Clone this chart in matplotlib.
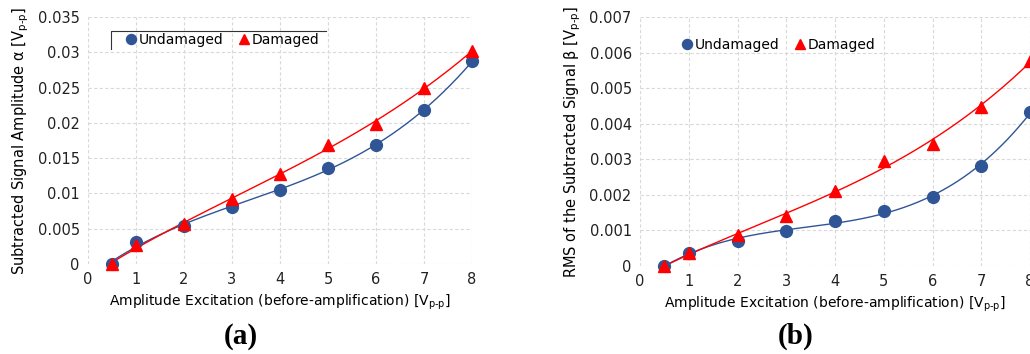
import matplotlib.pyplot as plt
import numpy as np

# excitation amplitude [Vp-p]
x = [0.5, 1, 2, 3, 4, 5, 6, 7, 8]

# (a) subtracted signal amplitude alpha
alpha_undamaged = [0.0, 0.0031, 0.0054, 0.0081, 0.0105, 0.0136, 0.0169, 0.0218, 0.0287]
alpha_damaged = [0.0, 0.0027, 0.0056, 0.0092, 0.0128, 0.0168, 0.0199, 0.0249, 0.0302]

# (b) RMS of the subtracted signal beta
beta_undamaged = [0.0, 0.00037, 0.00071, 0.00099, 0.00126, 0.00154, 0.00194, 0.00281, 0.00433]
beta_damaged = [0.0, 0.00036, 0.00087, 0.0014, 0.00212, 0.00295, 0.00342, 0.00448, 0.00577]

xticks = list(range(9))
alpha_ticks = [0, 0.005, 0.01, 0.015, 0.02, 0.025, 0.03, 0.035]
alpha_labels = ['0', '0.005', '0.01', '0.015', '0.02', '0.025', '0.03', '0.035']
beta_ticks = [0, 0.001, 0.002, 0.003, 0.004, 0.005, 0.006, 0.007]
beta_labels = ['0', '0.001', '0.002', '0.003', '0.004', '0.005', '0.006', '0.007']

blue = '#2F5597'
red = '#FF0000'
xlabel = 'Amplitude Excitation (before-amplification) [V$_\\mathregular{p\\text{-}p}$]'

plt.rcParams['font.family'] = ['DejaVu Sans']
plt.rcParams['font.size'] = 10
plt.rcParams['mathtext.default'] = 'regular'

fig = plt.figure(figsize=(10.3, 3.54), dpi=100)
ax1 = fig.add_axes([0.0854, 0.2542, 0.3728, 0.6977])
ax2 = fig.add_axes([0.6214, 0.2486, 0.3786, 0.7034])


def draw(ax, yu, yd, yticks, ylabels, ylabel):
    xs = np.linspace(x[0], x[-1], 200)
    fu = np.polyfit(x, yu, 3)
    fd = np.polyfit(x, yd, 3)
    ax.plot(xs, np.polyval(fu, xs), color=blue, lw=1.0, zorder=2)
    ax.plot(xs, np.polyval(fd, xs), color=red, lw=1.0, zorder=2)
    ax.plot(x, yu, 'o', color=blue, ms=8.5, label='Undamaged', clip_on=False, zorder=3)
    ax.plot(x, yd, '^', color=red, ms=8, label='Damaged', clip_on=False, zorder=4)
    ax.set_xlim(0, 8)
    ax.set_ylim(yticks[0], yticks[-1])
    ax.set_xticks(xticks)
    ax.set_yticks(yticks)
    ax.set_yticklabels(ylabels)
    ax.tick_params(length=0, pad=6, labelsize=10.5, colors='#222222')
    for s in ax.spines.values():
        s.set_visible(False)
    ax.grid(True, ls=(0, (3, 2)), color='#D9D9D9', lw=0.8)
    ax.set_axisbelow(True)
    ax.set_xlabel(xlabel, fontsize=10, labelpad=4)
    ax.set_ylabel(ylabel, fontsize=10.5, labelpad=5)


draw(ax1, alpha_undamaged, alpha_damaged, alpha_ticks, alpha_labels,
     'Subtracted Signal Amplitude α [V$_\\mathregular{p\\text{-}p}$]')
draw(ax2, beta_undamaged, beta_damaged, beta_ticks, beta_labels,
     'RMS of the Subtracted Signal β [V$_\\mathregular{p\\text{-}p}$]')

leg_kw = dict(ncol=2, frameon=False, handletextpad=0.0, columnspacing=0.9,
              handlelength=1.1, markerscale=0.85, fontsize=10)
ax1.legend(loc='upper left', bbox_to_anchor=(0.06, 0.985), **leg_kw)
# partial frame around the legend (top and left edges only)
ax1.plot([0.06, 0.06, 0.62], [0.87, 0.943, 0.943], color='#333333', lw=0.8,
         transform=ax1.transAxes, clip_on=False)
ax2.legend(loc='upper left', bbox_to_anchor=(0.07, 0.965), **leg_kw)

fig.text(0.234, 0.03, '(a)', fontsize=21, fontweight='bold', family='Liberation Serif', ha='center')
fig.text(0.772, 0.03, '(b)', fontsize=21, fontweight='bold', family='Liberation Serif', ha='center')

fig.savefig('out.png', dpi=100)
